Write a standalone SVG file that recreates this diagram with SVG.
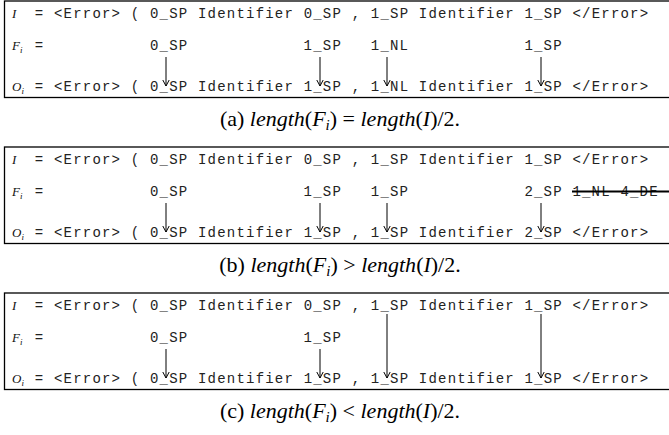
<svg xmlns="http://www.w3.org/2000/svg" width="669" height="435" viewBox="0 0 669 435">
<style>
.m{font-family:"Liberation Mono","Courier New",monospace;font-size:14px;letter-spacing:1.2px;fill:#222}
.l{font-family:"Liberation Serif","Times New Roman",serif;font-style:italic;font-size:13px;fill:#111}
.s{font-size:9px}
.cap{font-family:"Liberation Serif","Times New Roman",serif;font-size:22px;fill:#000}
.it{font-style:italic}
.box{fill:none;stroke:#000;stroke-width:1.3}
.arr{stroke:#000;stroke-width:1;fill:none;marker-end:url(#ah)}
.strike{stroke:#000;stroke-width:2}
</style>
<defs>
<marker id="ah" markerUnits="userSpaceOnUse" markerWidth="12" markerHeight="12" viewBox="-8 -6 10 12" refX="0" refY="0" orient="auto" overflow="visible">
<path d="M-6,-3.2 L0,0 L-6,3.2" fill="none" stroke="#000" stroke-width="1"/>
</marker>
</defs>

<g id="panel-a">
<rect class="box" x="4.5" y="1" width="680" height="96.5"/>
<g id="a-row-I">
<text class="l" x="12" y="18">I</text>
<text class="m" x="34.8" y="18">= &lt;Error&gt; ( 0_SP Identifier 0_SP , 1_SP Identifier 1_SP &lt;/Error&gt;</text>
</g>
<g id="a-row-F">
<text class="l" x="12" y="50">F<tspan class="s" dy="3">i</tspan></text>
<text class="m" x="34.8" y="50">=</text>
<text class="m" x="150" y="50">0_SP</text>
<text class="m" x="303.6" y="50">1_SP</text>
<text class="m" x="370.8" y="50">1_NL</text>
<text class="m" x="524.4" y="50">1_SP</text>
</g>
<g id="a-row-O">
<text class="l" x="12" y="91">O<tspan class="s" dy="3">i</tspan></text>
<text class="m" x="34.8" y="91">= &lt;Error&gt; ( 0_SP Identifier 1_SP , 1_NL Identifier 1_SP &lt;/Error&gt;</text>
</g>
<g id="a-connectors">
<line class="arr" x1="166" y1="57" x2="166" y2="86"/>
<line class="arr" x1="320" y1="57" x2="320" y2="86"/>
<line class="arr" x1="387" y1="57" x2="387" y2="86"/>
<line class="arr" x1="541" y1="57" x2="541" y2="86"/>
</g>
<text id="cap-a" class="cap" x="340" y="126" text-anchor="middle">(a) <tspan class="it">length</tspan>(<tspan class="it">F</tspan><tspan class="it" font-size="15" dy="4">i</tspan><tspan dy="-4">)</tspan> = <tspan class="it">length</tspan>(<tspan class="it">I</tspan>)/2.</text>
</g>

<g id="panel-b" transform="translate(0,146)">
<rect class="box" x="4.5" y="1" width="680" height="96.5"/>
<g id="b-row-I">
<text class="l" x="12" y="18">I</text>
<text class="m" x="34.8" y="18">= &lt;Error&gt; ( 0_SP Identifier 0_SP , 1_SP Identifier 1_SP &lt;/Error&gt;</text>
</g>
<g id="b-row-F">
<text class="l" x="12" y="50">F<tspan class="s" dy="3">i</tspan></text>
<text class="m" x="34.8" y="50">=</text>
<text class="m" x="150" y="50">0_SP</text>
<text class="m" x="303.6" y="50">1_SP</text>
<text class="m" x="370.8" y="50">1_SP</text>
<text class="m" x="524.4" y="50">2_SP</text>
<text class="m" x="572.4" y="50">1_NL 4_DE</text>
<line class="strike" x1="572" y1="45.5" x2="669" y2="45.5"/>
</g>
<g id="b-row-O">
<text class="l" x="12" y="91">O<tspan class="s" dy="3">i</tspan></text>
<text class="m" x="34.8" y="91">= &lt;Error&gt; ( 0_SP Identifier 1_SP , 1_SP Identifier 2_SP &lt;/Error&gt;</text>
</g>
<g id="b-connectors">
<line class="arr" x1="166" y1="57" x2="166" y2="86"/>
<line class="arr" x1="320" y1="57" x2="320" y2="86"/>
<line class="arr" x1="387" y1="57" x2="387" y2="86"/>
<line class="arr" x1="541" y1="57" x2="541" y2="86"/>
</g>
<text id="cap-b" class="cap" x="340" y="126" text-anchor="middle">(b) <tspan class="it">length</tspan>(<tspan class="it">F</tspan><tspan class="it" font-size="15" dy="4">i</tspan><tspan dy="-4">)</tspan> &gt; <tspan class="it">length</tspan>(<tspan class="it">I</tspan>)/2.</text>
</g>

<g id="panel-c" transform="translate(0,292)">
<rect class="box" x="4.5" y="1" width="680" height="96.5"/>
<g id="c-row-I">
<text class="l" x="12" y="18">I</text>
<text class="m" x="34.8" y="18">= &lt;Error&gt; ( 0_SP Identifier 0_SP , 1_SP Identifier 1_SP &lt;/Error&gt;</text>
</g>
<g id="c-row-F">
<text class="l" x="12" y="50">F<tspan class="s" dy="3">i</tspan></text>
<text class="m" x="34.8" y="50">=</text>
<text class="m" x="150" y="50">0_SP</text>
<text class="m" x="303.6" y="50">1_SP</text>
</g>
<g id="c-row-O">
<text class="l" x="12" y="91">O<tspan class="s" dy="3">i</tspan></text>
<text class="m" x="34.8" y="91">= &lt;Error&gt; ( 0_SP Identifier 1_SP , 1_SP Identifier 1_SP &lt;/Error&gt;</text>
</g>
<g id="c-connectors">
<line class="arr" x1="166" y1="57" x2="166" y2="86"/>
<line class="arr" x1="320" y1="57" x2="320" y2="86"/>
<line class="arr" x1="387" y1="22" x2="387" y2="86"/>
<line class="arr" x1="541" y1="22" x2="541" y2="86"/>
</g>
<text id="cap-c" class="cap" x="340" y="126" text-anchor="middle">(c) <tspan class="it">length</tspan>(<tspan class="it">F</tspan><tspan class="it" font-size="15" dy="4">i</tspan><tspan dy="-4">)</tspan> &lt; <tspan class="it">length</tspan>(<tspan class="it">I</tspan>)/2.</text>
</g>
</svg>
